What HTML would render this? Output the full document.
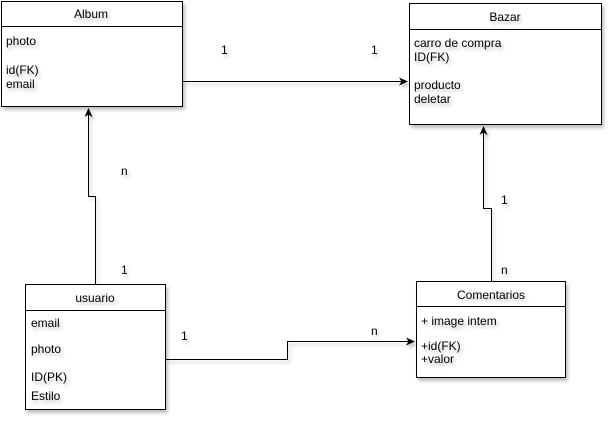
<!DOCTYPE html>
<html><head><style>
html,body{margin:0;padding:0;background:#fff;}
svg text{font-family:"Liberation Sans",Arial,sans-serif;font-size:12px;fill:#000;}
</style></head><body>
<svg width="614" height="424" viewBox="0 0 614 424" xmlns="http://www.w3.org/2000/svg">
<defs>
<filter id="sh" x="-10%" y="-10%" width="130%" height="130%"><feDropShadow dx="2" dy="3" stdDeviation="1.5" flood-color="#000" flood-opacity="0.25"/></filter>
<marker id="ar" markerWidth="10" markerHeight="10" refX="8" refY="4" orient="auto" markerUnits="userSpaceOnUse"><path d="M0,0 L9,4 L0,8 L2.5,4 Z" fill="#000"/></marker>
</defs>
<g fill="#fff" stroke="#000" stroke-width="1" filter="url(#sh)">
<rect x="1.5" y="1.5" width="181" height="105"/>
<rect x="409.5" y="3.5" width="192" height="121"/>
<rect x="25.5" y="284.5" width="140" height="125"/>
<rect x="416.5" y="281.5" width="149" height="96"/>
</g>
<g stroke="#000" stroke-width="1">
<line x1="1.5" y1="26.5" x2="182.5" y2="26.5"/>
<line x1="409.5" y1="29.5" x2="601.5" y2="29.5"/>
<line x1="25.5" y1="310.5" x2="165.5" y2="310.5"/>
<line x1="416.5" y1="306.5" x2="565.5" y2="306.5"/>
</g>
<g fill="none" stroke="#000" stroke-width="1" filter="url(#sh)">
<path d="M182.5,81.5 L407,81.5" marker-end="url(#ar)"/>
<path d="M95.5,284 L95.5,196.5 L88.5,196.5 L88.5,109" marker-end="url(#ar)"/>
<path d="M165.5,359.5 L287.5,359.5 L287.5,341.5 L414,341.5" marker-end="url(#ar)"/>
<path d="M491.5,281 L491.5,208.5 L483.5,208.5 L483.5,127" marker-end="url(#ar)"/>
</g>
<g filter="url(#sh)">
<text x="91" y="18" text-anchor="middle">Album</text>
<text x="6" y="45">photo</text>
<text x="6" y="74">id(FK)</text>
<text x="6" y="88">email</text>
<text x="505" y="21" text-anchor="middle">Bazar</text>
<text x="414" y="47">carro de compra</text>
<text x="414" y="61">ID(FK)</text>
<text x="414" y="89">producto</text>
<text x="414" y="103">deletar</text>
<text x="95" y="302" text-anchor="middle">usuario</text>
<text x="31" y="327">email</text>
<text x="31" y="353">photo</text>
<text x="31" y="381">ID(PK)</text>
<text x="31" y="400">Estilo</text>
<text x="491" y="299" text-anchor="middle">Comentarios</text>
<text x="421" y="325">+ image intem</text>
<text x="421" y="350">+id(FK)</text>
<text x="421" y="363">+valor</text>
<text x="221" y="54">1</text>
<text x="371" y="54">1</text>
<text x="121" y="175">n</text>
<text x="121" y="274">1</text>
<text x="181" y="340">1</text>
<text x="371" y="335">n</text>
<text x="501" y="204">1</text>
<text x="501" y="274">n</text>
</g>
</svg>
</body></html>
